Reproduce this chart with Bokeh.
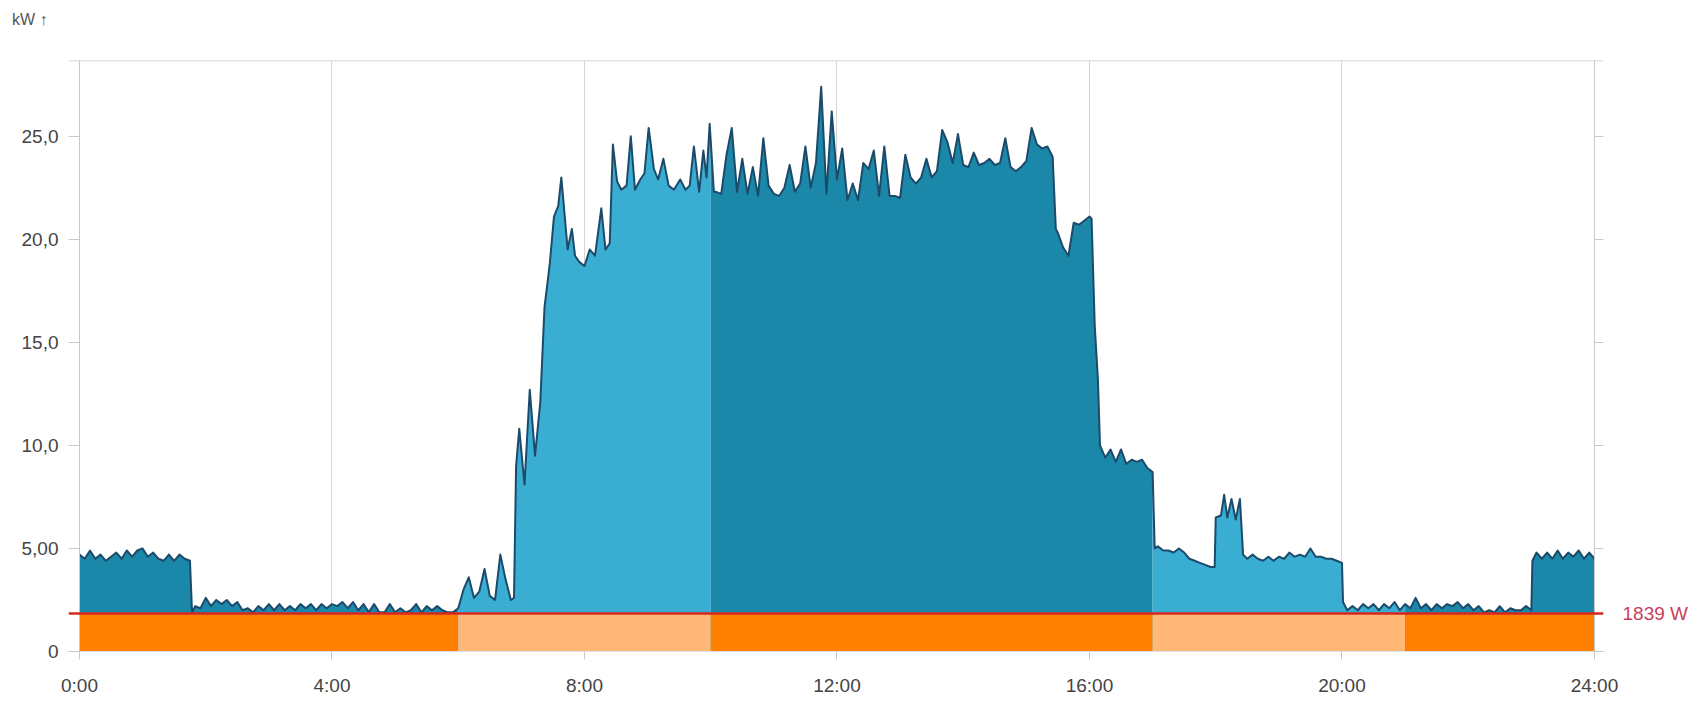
import numpy as np
from bokeh.plotting import figure
from bokeh.layouts import column
from bokeh.models import Range1d, FixedTicker, Span, LinearAxis, Div
from bokeh.embed import file_html
from bokeh.resources import INLINE

# ---------------- data ----------------
# time of day in minutes, power in kW
minute = [
    # 0:00 - 1:45
    0, 5, 10, 15, 20, 25, 30, 35, 40, 45, 50, 55, 60, 65, 70, 75, 80, 85, 90, 95, 100, 105,
    # 1:47 - 5:55
    107, 110,
    115, 120, 125, 130, 135, 140, 145, 150, 155, 160,
    165, 170, 175, 180, 185, 190, 195, 200, 205, 210,
    215, 220, 225, 230, 235, 240, 245, 250, 255, 260,
    265, 270, 275, 280, 285, 290, 295, 300, 305, 310,
    315, 320, 325, 330, 335, 340, 345, 350, 355,
    # 6:00 - 6:53
    360, 365, 370, 375, 380, 385, 390, 395, 400, 405, 410, 413,
    # 6:55 - 8:24
    415, 418, 423, 428, 433, 438, 442, 447, 451, 455, 458, 464, 468, 471, 475, 480, 485, 490, 496, 500, 504,
    # 8:27 - 10:03
    507, 511, 515, 520, 524, 528, 533, 537, 541, 546, 550, 555, 560, 565, 571, 576, 580, 584, 589, 593, 596, 599, 603,
    # 10:05 - 15:25
    605, 610, 615, 620, 625, 630, 635, 640, 645, 650,
    655, 660, 665, 670, 675, 680, 685, 690, 695, 700,
    705, 710, 715, 720, 725, 730, 735, 740, 745, 750,
    755, 760, 765, 770, 775, 780, 785, 790, 795, 800,
    805, 810, 815, 820, 825, 830, 835, 840, 845, 850,
    855, 860, 865, 870, 875, 880, 885, 890, 895, 900,
    905, 910, 915, 920, 925,
    # 15:28 - 17:00
    928, 930, 935, 940, 945, 950, 955, 960, 962, 965, 968, 970, 975, 980, 985, 990, 995, 1000, 1005, 1010, 1015, 1020,
    # 17:02 - 20:00
    1022, 1025,
    1030, 1035, 1040, 1045, 1050, 1055, 1060, 1065, 1070, 1075,
    1079, 1080, 1085, 1088, 1091, 1095, 1099, 1103, 1106,
    1110, 1115, 1120, 1125, 1130, 1135, 1140, 1145, 1150, 1155,
    1160, 1165, 1170, 1175, 1180, 1185, 1190, 1195, 1200,
    # 20:01 - 24:00
    1201,
    1205, 1210, 1215, 1220, 1225, 1230, 1235, 1240, 1245, 1250,
    1255, 1260, 1265, 1270, 1275, 1280, 1285, 1290, 1295, 1300,
    1305, 1310, 1315, 1320, 1325, 1330, 1335, 1340, 1345, 1350,
    1355, 1360, 1365, 1370, 1375, 1380,
    1381,
    1385, 1390, 1395, 1400, 1405, 1410, 1415, 1420, 1425, 1430, 1435, 1440,
]

kw = [
    # 0:00 - 1:45
    4.7, 4.5, 4.9, 4.5, 4.7, 4.4, 4.6, 4.8, 4.5, 4.9, 4.6, 4.9, 5.0, 4.6, 4.8, 4.5, 4.4, 4.7, 4.4, 4.7, 4.5, 4.4,
    # 1:47 - 5:55
    1.9, 2.2,
    2.1, 2.6, 2.2, 2.5, 2.3, 2.5, 2.2, 2.4, 2.0, 2.1,
    1.9, 2.2, 2.0, 2.3, 2.0, 2.3, 2.0, 2.2, 2.0, 2.3,
    2.1, 2.3, 2.0, 2.3, 2.1, 2.3, 2.2, 2.4, 2.1, 2.4,
    2.0, 2.3, 1.9, 2.3, 1.9, 1.9, 2.3, 1.9, 2.1, 1.9,
    2.0, 2.3, 1.9, 2.2, 2.0, 2.2, 2.0, 1.9, 1.9,
    # 6:00 - 6:53
    2.1, 3.0, 3.6, 2.6, 2.9, 4.0, 2.7, 2.5, 4.7, 3.5, 2.5, 2.6,
    # 6:55 - 8:24
    9.0, 10.8, 8.1, 12.7, 9.5, 12.1, 16.7, 18.8, 21.1, 21.6, 23.0, 19.5, 20.5, 19.2, 18.9, 18.7, 19.5, 19.2, 21.5, 19.5, 19.8,
    # 8:27 - 10:03
    24.6, 22.8, 22.4, 22.6, 25.0, 22.4, 22.9, 23.2, 25.4, 23.4, 22.9, 23.9, 22.6, 22.4, 22.9, 22.4, 22.6, 24.5, 22.3, 24.3, 23.0, 25.6, 22.3,
    # 10:05 - 15:25
    22.3, 22.2, 24.1, 25.4, 22.3, 23.9, 22.2, 23.5, 22.1, 24.9,
    22.6, 22.2, 22.1, 22.5, 23.6, 22.3, 22.7, 24.5, 22.5, 23.7,
    27.4, 22.2, 26.2, 22.9, 24.4, 21.9, 22.7, 21.9, 23.7, 23.4,
    24.3, 22.1, 24.5, 22.1, 22.1, 22.0, 24.1, 23.0, 22.7, 23.0,
    23.9, 23.0, 23.3, 25.3, 24.7, 23.7, 25.1, 23.6, 23.5, 24.2,
    23.6, 23.7, 23.9, 23.6, 23.7, 24.9, 23.5, 23.3, 23.5, 23.8,
    25.4, 24.6, 24.4, 24.5, 24.0,
    # 15:28 - 17:00
    20.5, 20.3, 19.6, 19.2, 20.8, 20.7, 20.9, 21.1, 21.0, 15.8, 13.2, 10.0, 9.4, 9.8, 9.2, 9.8, 9.1, 9.3, 9.2, 9.3, 8.9, 8.7,
    # 17:02 - 20:00
    5.0, 5.1,
    4.9, 4.9, 4.8, 5.0, 4.8, 4.5, 4.4, 4.3, 4.2, 4.1,
    4.1, 6.5, 6.6, 7.6, 6.5, 7.4, 6.4, 7.4, 4.7,
    4.5, 4.7, 4.5, 4.4, 4.6, 4.4, 4.6, 4.5, 4.8, 4.6,
    4.7, 4.6, 5.0, 4.6, 4.6, 4.5, 4.5, 4.4, 4.3,
    # 20:01 - 24:00
    2.4,
    2.0, 2.2, 2.0, 2.3, 2.1, 2.3, 2.0, 2.3, 2.1, 2.4,
    2.0, 2.3, 2.1, 2.6, 2.1, 2.3, 2.0, 2.3, 2.1, 2.3,
    2.2, 2.4, 2.1, 2.3, 2.0, 2.2, 1.9, 2.0, 1.9, 2.2,
    1.9, 2.1, 2.0, 2.0, 2.2, 2.0,
    4.4,
    4.8, 4.5, 4.8, 4.5, 4.9, 4.5, 4.8, 4.6, 4.9, 4.5, 4.8, 4.5,
]

# tariff periods (hours)
tariff_start = [0, 6, 10, 17, 21]
tariff_end = [6, 10, 17, 21, 24]
tariff_kind = ["HT", "NT", "HT", "NT", "HT"]

base_load_w = 1839

x_ticks = [0, 4, 8, 12, 16, 20, 24]
x_tick_labels = ["0:00", "4:00", "8:00", "12:00", "16:00", "20:00", "24:00"]
y_ticks = [0, 5, 10, 15, 20, 25]
y_tick_labels = ["0", "5,00", "10,0", "15,0", "20,0", "25,0"]
y_unit_label = "kW ↑"

# ---------------- styling ----------------
AREA = {"HT": "#1b88a9", "NT": "#3aadd2"}
BAND = {"HT": "#ff8000", "NT": "#ffb878"}
LINE = "#1b4a6a"
RED = "#d6281e"
AXIS_GREY = "#c8c8c8"
GRID_GREY = "#d4d4d4"
TEXT = "#444444"
FONT = "Liberation Sans"

n = min(len(minute), len(kw))
hours = np.array(minute[:n], dtype=float) / 60.0
vals = np.array(kw[:n], dtype=float)
base_kw = base_load_w / 1000.0

X0, X1 = -0.174, 24.143
Y0, Y1 = 0.0, 28.67

HEAD = 40  # height of the unit-label strip above the figure

p = figure(width=1698, height=698 - HEAD, output_backend="svg", toolbar_location=None,
           x_range=Range1d(X0, X1), y_range=Range1d(Y0, Y1),
           min_border_left=68, min_border_right=95, min_border_top=60 - HEAD, min_border_bottom=43)
p.outline_line_color = None
p.background_fill_color = "white"
p.border_fill_color = "white"

# grid
p.xgrid.ticker = FixedTicker(ticks=x_ticks)
p.xgrid.grid_line_color = GRID_GREY
p.ygrid.grid_line_color = None

# x axis
xa = p.xaxis[0]
xa.ticker = FixedTicker(ticks=x_ticks)
xa.major_label_overrides = dict(zip(x_ticks, x_tick_labels))
xa.axis_line_color = "#dde2ea"
xa.major_tick_line_color = AXIS_GREY
xa.major_tick_in = 0
xa.major_tick_out = 8
xa.minor_tick_line_color = None
xa.major_label_standoff = 15
xa.major_label_text_font = FONT
xa.major_label_text_font_size = "19px"
xa.major_label_text_color = TEXT

# left y axis
ya = p.yaxis[0]
ya.ticker = FixedTicker(ticks=y_ticks)
ya.major_label_overrides = dict(zip(y_ticks, y_tick_labels))
ya.axis_line_color = None
ya.major_tick_line_color = AXIS_GREY
ya.major_tick_in = 11
ya.major_tick_out = 0
ya.minor_tick_line_color = None
ya.major_label_standoff = 10
ya.major_label_text_font = FONT
ya.major_label_text_font_size = "19px"
ya.major_label_text_color = TEXT

# right y axis: tick marks plus the base-load label
right_ticks = y_ticks + [base_kw]
right_labels = {t: "" for t in y_ticks}
right_labels[base_kw] = f"{base_load_w} W"
ra = LinearAxis(ticker=FixedTicker(ticks=right_ticks))
ra.major_label_overrides = right_labels
ra.axis_line_color = None
ra.major_tick_line_color = AXIS_GREY
ra.major_tick_in = 9
ra.major_tick_out = 0
ra.minor_tick_line_color = None
ra.major_label_standoff = 19
ra.major_label_text_font = FONT
ra.major_label_text_font_size = "19px"
ra.major_label_text_color = "#c8405a"
p.add_layout(ra, "right")

# area fills per tariff period
for a, b, k in zip(tariff_start, tariff_end, tariff_kind):
    inside = (hours > a) & (hours < b)
    xs = np.concatenate([[a], hours[inside], [b]])
    ys = np.concatenate([[np.interp(a, hours, vals)], vals[inside], [np.interp(b, hours, vals)]])
    p.varea(x=xs, y1=0, y2=ys, fill_color=AREA[k])

# outline of the series
p.line(hours, vals, line_color=LINE, line_width=2, line_join="round")

# tariff bands up to base load
p.quad(left=tariff_start, right=tariff_end, bottom=0, top=base_kw,
       fill_color=[BAND[k] for k in tariff_kind], line_color=None)

# frame lines
p.add_layout(Span(location=0, dimension="height", line_color=AXIS_GREY, line_width=1))
p.add_layout(Span(location=24, dimension="height", line_color=AXIS_GREY, line_width=1))
p.add_layout(Span(location=Y1, dimension="width", line_color=AXIS_GREY, line_width=1.5))

# base load line
p.add_layout(Span(location=base_kw, dimension="width", line_color=RED, line_width=2.5))

# unit label strip
head = Div(
    text=(f'<div style="font-family:\'{FONT}\';font-size:16px;line-height:20px;'
          f'color:#555555;margin:10px 0 0 12px;white-space:nowrap">{y_unit_label}</div>'),
    width=200, height=HEAD, margin=0)

layout = column(head, p, spacing=0)

open("out.html", "w").write(file_html(layout, INLINE))
